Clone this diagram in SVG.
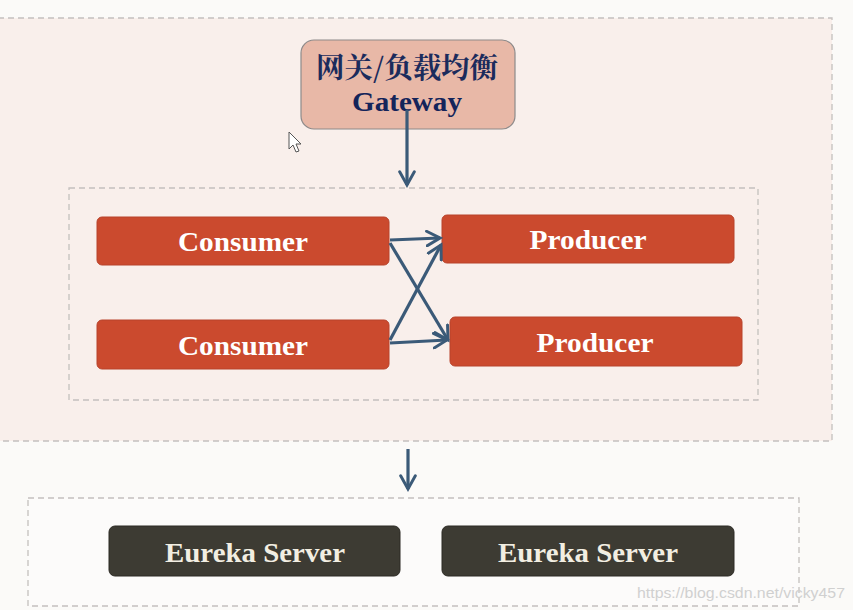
<svg xmlns="http://www.w3.org/2000/svg" width="853" height="610" viewBox="0 0 853 610">
<style>
.zone{stroke:#c4c0be;stroke-width:1.3;stroke-dasharray:6 4}
.red{fill:#cb4a2e;stroke:#b8432b;stroke-width:1}
.dark{fill:#3d3b33;stroke:#2c2a24;stroke-width:1}
.lbl{font-family:"Liberation Serif",serif;font-weight:bold;font-size:28px;text-anchor:middle}
.conn{stroke:#3b5a78;stroke-width:3.2;fill:none}
</style>
<defs>
<marker id="ah" viewBox="0 0 12 12" refX="10" refY="6" markerWidth="5.5" markerHeight="5.5" markerUnits="strokeWidth" orient="auto">
<path d="M1,1 L10,6 L1,11" fill="none" stroke="#3b5a78" stroke-width="2" stroke-linecap="round"/>
</marker>
</defs>
<rect x="0" y="0" width="853" height="610" fill="#fbfaf8"/>
<rect class="zone" x="-2" y="18" width="834" height="423" fill="#f9efeb"/>
<rect class="zone" x="69" y="188" width="689" height="212" fill="none"/>
<rect class="zone" x="28" y="498" width="771" height="108" fill="#fcfbfa"/>
<g id="gateway">
<rect x="301" y="40" width="214" height="89" rx="13" fill="#e8b8a7" stroke="#8d8a8a" stroke-width="1.2"/>
<text x="407" y="78" font-family="'Noto Serif CJK SC','Noto Sans CJK SC',serif" font-size="28" font-weight="bold" fill="#1b2b5c" text-anchor="middle" textLength="182" lengthAdjust="spacingAndGlyphs">网关/负载均衡</text>
<text x="407" y="111" class="lbl" fill="#14245a" textLength="110" lengthAdjust="spacingAndGlyphs">Gateway</text>
</g>
<g id="consumer1"><rect class="red" x="97" y="217" width="292" height="48" rx="5"/><text class="lbl" x="243" y="251" fill="#ffffff" textLength="130" lengthAdjust="spacingAndGlyphs">Consumer</text></g>
<g id="consumer2"><rect class="red" x="97" y="320" width="292" height="49" rx="5"/><text class="lbl" x="243" y="355" fill="#ffffff" textLength="130" lengthAdjust="spacingAndGlyphs">Consumer</text></g>
<g id="producer1"><rect class="red" x="442" y="215" width="292" height="48" rx="5"/><text class="lbl" x="588" y="249" fill="#ffffff" textLength="117" lengthAdjust="spacingAndGlyphs">Producer</text></g>
<g id="producer2"><rect class="red" x="450" y="317" width="292" height="49" rx="5"/><text class="lbl" x="595" y="352" fill="#ffffff" textLength="117" lengthAdjust="spacingAndGlyphs">Producer</text></g>
<g id="eureka1"><rect class="dark" x="109" y="526" width="291" height="50" rx="6"/><text class="lbl" x="255" y="562" fill="#f2eee2" textLength="180" lengthAdjust="spacingAndGlyphs">Eureka Server</text></g>
<g id="eureka2"><rect class="dark" x="442" y="526" width="292" height="50" rx="6"/><text class="lbl" x="588" y="562" fill="#f2eee2" textLength="180" lengthAdjust="spacingAndGlyphs">Eureka Server</text></g>
<g id="connectors">
<line class="conn" x1="407" y1="110" x2="407" y2="185" marker-end="url(#ah)"/>
<line class="conn" x1="390" y1="240" x2="440" y2="238" marker-end="url(#ah)"/>
<line class="conn" x1="390" y1="243" x2="448" y2="340" marker-end="url(#ah)"/>
<line class="conn" x1="390" y1="343" x2="447" y2="340" marker-end="url(#ah)"/>
<line class="conn" x1="390" y1="340" x2="441" y2="245" marker-end="url(#ah)"/>
<line class="conn" x1="408" y1="449" x2="408" y2="489" stroke-width="2.6" marker-end="url(#ah)"/>
</g>
<path d="M289,132 L289,149 L293,145 L296,152 L299,151 L296,144 L301,144 Z" fill="#ffffff" stroke="#555" stroke-width="1"/>
<text x="845" y="598" font-family="'Liberation Sans',sans-serif" font-size="15" fill="#d0d0d0" text-anchor="end" textLength="208" lengthAdjust="spacingAndGlyphs">https://blog.csdn.net/vicky457</text>
</svg>
